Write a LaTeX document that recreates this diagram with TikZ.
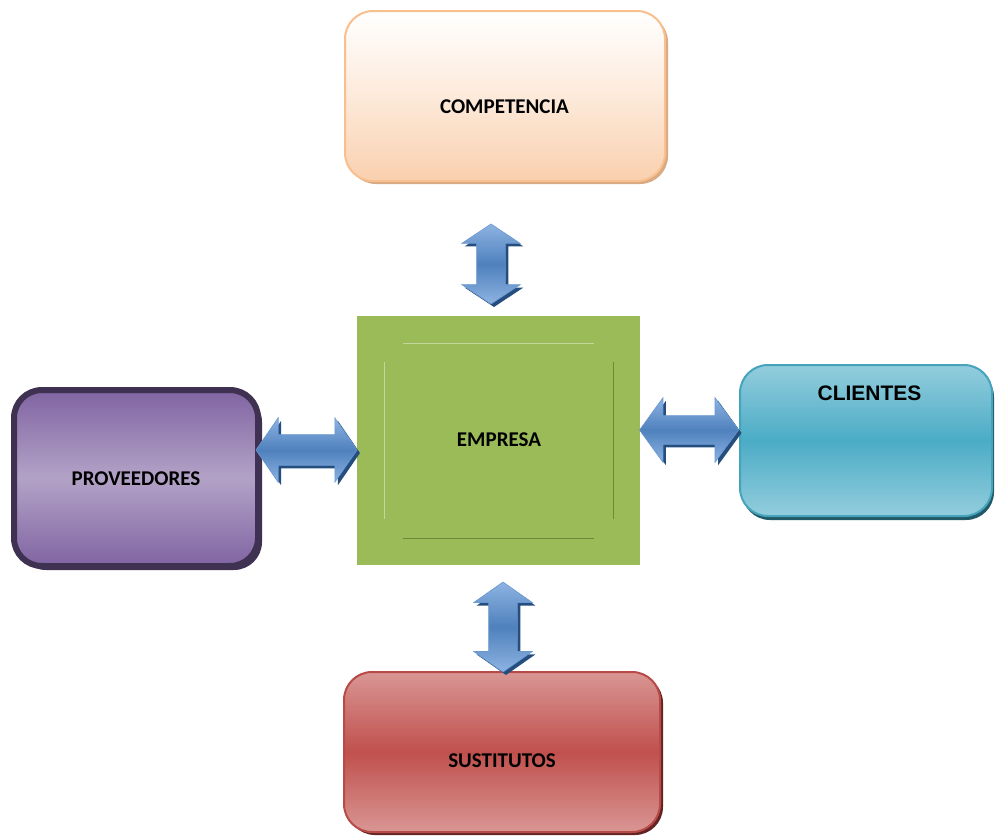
\documentclass[tikz,border=0pt]{standalone}
\usepackage{fontspec}
\setmainfont{Carlito}
\newfontfamily\arialfont{Liberation Sans}
\usetikzlibrary{shapes.arrows,shadows}
\definecolor{compborder}{HTML}{F8C08F}
\definecolor{compbot}{HTML}{FAD0AE}
\definecolor{compshadow}{HTML}{D9AA84}
\definecolor{empfill}{HTML}{9BBB59}
\definecolor{emplight}{HTML}{C3D69B}
\definecolor{empdark}{HTML}{6E8A38}
\definecolor{provborder}{HTML}{3F3151}
\definecolor{provdark}{HTML}{8064A2}
\definecolor{provlight}{HTML}{B3A2C7}
\definecolor{clidark}{HTML}{4BACC6}
\definecolor{clilight}{HTML}{93CDDD}
\definecolor{cliborder}{HTML}{45A3BC}
\definecolor{clishadow}{HTML}{215968}
\definecolor{susdark}{HTML}{C0504D}
\definecolor{suslight}{HTML}{D99694}
\definecolor{susborder}{HTML}{B84A47}
\definecolor{susshadow}{HTML}{632523}
\definecolor{arrmid}{HTML}{4F81BD}
\definecolor{arrlight}{HTML}{8DB3E2}
\definecolor{arredge}{HTML}{6A98D0}
\definecolor{arrshadow}{HTML}{254E7F}
\begin{document}
\begin{tikzpicture}[x=1pt,y=-1pt,
  box/.style={rectangle, rounded corners=28pt, inner sep=0pt},
  lbl/.style={font=\bfseries\fontsize{21}{25}\selectfont, inner sep=0pt},
  arr/.style={double arrow, inner xsep=0pt, draw=arredge, line width=0.6pt,
    top color=arrlight, bottom color=arrlight, middle color=arrmid,
    general shadow={shadow xshift=3pt, shadow yshift=-3pt, fill=arrshadow}}]
\useasboundingbox (0,0) rectangle (995,836);

% boxes
\node[box, minimum width=320pt, minimum height=170pt, draw=compborder, line width=2pt,
  top color=white, bottom color=compbot, middle color=compbot!45!white,
  general shadow={shadow xshift=3pt, shadow yshift=-3pt, fill=compshadow}] (comp) at (505,96) {};
\node[lbl] (tcomp) at (504.5,107) {COMPETENCIA};

\node[rectangle, inner sep=0pt, minimum width=283pt, minimum height=249pt, fill=empfill] (emp) at (498.5,440.5) {};
\coordinate (e1) at (403,343); \coordinate (e2) at (594,343);
\coordinate (e3) at (403,538); \coordinate (e4) at (594,538);
\coordinate (e5) at (384,362); \coordinate (e6) at (384,519);
\coordinate (e7) at (613,362); \coordinate (e8) at (613,519);
\draw[emplight, line width=0.8pt] (e1) -- (e2);
\draw[emplight, line width=0.8pt] (e5) -- (e6);
\draw[empdark, line width=0.8pt] (e3) -- (e4);
\draw[empdark, line width=0.8pt] (e7) -- (e8);
\node[lbl] (temp) at (499,440) {EMPRESA};

\node[box, minimum width=244pt, minimum height=176pt, draw=provborder, line width=6pt,
  top color=provdark, bottom color=provdark, middle color=provlight,
  general shadow={shadow xshift=4pt, shadow yshift=-4pt, fill=provborder}] (prov) at (136,478) {};
\node[lbl] (tprov) at (136,479) {PROVEEDORES};

\node[box, minimum width=252pt, minimum height=151pt, draw=cliborder, line width=2pt,
  top color=clilight, bottom color=clilight, middle color=clidark,
  general shadow={shadow xshift=2pt, shadow yshift=-4pt, fill=clishadow}] (cli) at (866,440.5) {};
\node[font=\arialfont\bfseries\fontsize{21}{25}\selectfont, inner sep=0pt] (tcli) at (869.5,393) {CLIENTES};

\node[box, minimum width=316pt, minimum height=160pt, draw=susborder, line width=2pt,
  top color=suslight, bottom color=suslight, middle color=susdark,
  general shadow={shadow xshift=3pt, shadow yshift=-3pt, fill=susshadow}] (sus) at (502,752) {};
\node[lbl] (tsus) at (502,761) {SUSTITUTOS};

% arrows
\node[arr, rotate=90, minimum height=80pt, inner ysep=14pt, double arrow head extend=15pt, double arrow tip angle=113] (a1) at (491,264) {};
\node[arr, rotate=90, minimum height=90pt, inner ysep=14pt, double arrow head extend=15pt, double arrow tip angle=110] (a2) at (503,627) {};
\node[arr, minimum height=101pt, inner ysep=15pt, double arrow head extend=17pt, double arrow tip angle=111] (a3) at (306.5,450) {};
\node[arr, minimum height=99pt, inner ysep=14pt, double arrow head extend=18pt, double arrow tip angle=108] (a4) at (689,430) {};
\end{tikzpicture}
\end{document}
